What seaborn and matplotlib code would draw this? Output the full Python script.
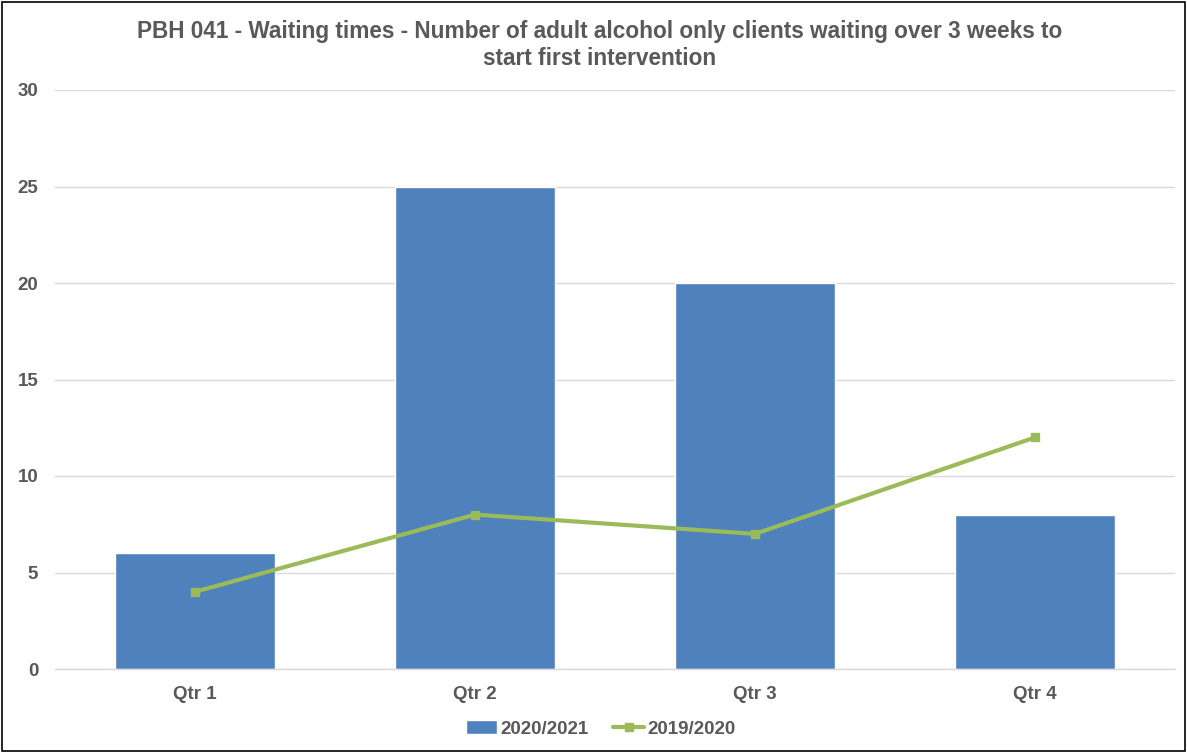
import matplotlib
matplotlib.use("Agg")
import matplotlib.pyplot as plt
import seaborn as sns
import pandas as pd
from matplotlib.patches import Rectangle

categories = ["Qtr 1", "Qtr 2", "Qtr 3", "Qtr 4"]
values_2020_21 = [6, 25, 20, 8]
values_2019_20 = [4, 8, 7, 12]
yticks = [0, 5, 10, 15, 20, 25, 30]
title = "PBH 041 - Waiting times - Number of adult alcohol only clients waiting over 3 weeks to\nstart first intervention"

sns.set_theme(style="white")
plt.rcParams['font.family'] = ['Liberation Sans', 'DejaVu Sans']
txt = "#595959"

fig = plt.figure(figsize=(11.87, 7.53), dpi=100)
ax = fig.add_axes([55/1187, 1-669/753, 1120/1187, (669-90)/753])

df = pd.DataFrame({"cat": categories, "v20": values_2020_21, "v19": values_2019_20})
sns.barplot(data=df, x="cat", y="v20", color="#4F81BD", saturation=1, width=0.57,
            ax=ax, label="2020/2021", zorder=2, legend=False)
ax.plot(range(len(categories)), values_2019_20, color="#9BBB59", lw=3, marker="s",
        markersize=6, label="2019/2020", zorder=3)
if ax.get_legend() is not None:
    ax.get_legend().remove()

ax.set_xlim(-0.5, 3.5)
ax.set_ylim(0, 30)
ax.set_yticks(yticks)
ax.set_yticklabels([str(t) for t in yticks], fontsize=13.5, fontweight="bold", color=txt)
ax.set_xticks(range(len(categories)))
ax.set_xticklabels(categories, fontsize=13.5, fontweight="bold", color=txt)
ax.tick_params(axis="y", length=0, pad=12)
ax.tick_params(axis="x", length=0, pad=12)
ax.set_xlabel("")
ax.set_ylabel("")
ax.yaxis.grid(True, color="#D9D9D9", lw=1, zorder=0)
ax.set_axisbelow(True)
for s in ["top", "right", "left"]:
    ax.spines[s].set_visible(False)
ax.spines["bottom"].set_color("#D9D9D9")
ax.spines["bottom"].set_linewidth(1)

fig.text(600/1187, 1-45/753, title, ha="center", va="center", fontsize=16.3,
         fontweight="bold", color=txt, linespacing=1.2, multialignment="center")

handles, labels = ax.get_legend_handles_labels()
order = [labels.index("2020/2021"), labels.index("2019/2020")]
leg = fig.legend([handles[i] for i in order], [labels[i] for i in order],
                 loc="center", bbox_to_anchor=(601/1187, 1-729/753), ncol=2, frameon=False,
                 prop={"size": 13.5, "weight": "bold"}, handlelength=1.65,
                 columnspacing=1.3, handletextpad=0.2)
for t in leg.get_texts():
    t.set_color(txt)

fig.patches.append(Rectangle((2/1187, 2/753), 1-4/1187, 1-4/753, transform=fig.transFigure,
                             fill=False, edgecolor="#000000", lw=1.2))

fig.savefig("out.png", dpi=100)
